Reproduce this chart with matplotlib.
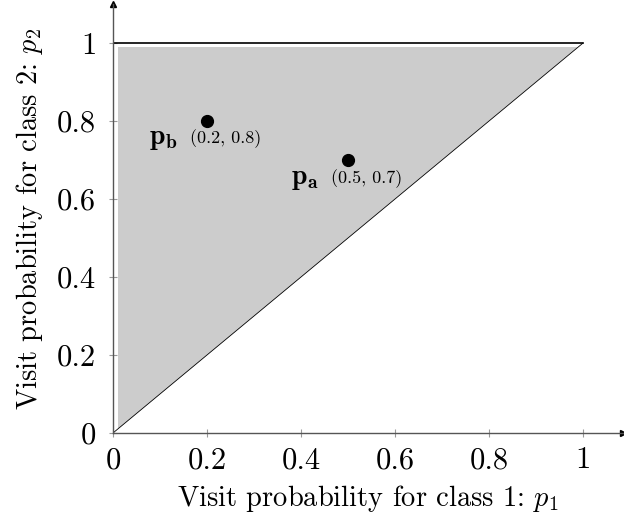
import matplotlib.pyplot as plt

plt.rcParams['font.family'] = ['cmr10']
plt.rcParams['mathtext.fontset'] = 'cm'
plt.rcParams['axes.formatter.use_mathtext'] = True

# data
point_names = ['b', 'a']
point_x = [0.2, 0.5]
point_y = [0.8, 0.7]
ticks = [0, 0.2, 0.4, 0.6, 0.8, 1]
tick_labels = ['0', '0.2', '0.4', '0.6', '0.8', '1']

fig = plt.figure(figsize=(6.24, 5.16), dpi=100)
ax = fig.add_axes([0.1811, 0.1609, 0.817, 0.831])
ax.set_xlim(0, 1.085)
ax.set_ylim(0, 1.1)

# feasible region (slightly inset like the original)
ax.fill([0.01, 0.01, 0.99], [0.01, 0.99, 0.99], color='#cccccc', lw=0, zorder=1)
ax.plot([0, 1], [1, 1], color='black', lw=1.2, zorder=2)
ax.plot([0, 1], [0, 1], color='black', lw=0.6, zorder=2)

ax.plot(point_x, point_y, 'o', color='black', ms=8.5, zorder=4)
for n, x, y in zip(point_names, point_x, point_y):
    dy = -12.5 if n == 'b' else -13.5
    ax.annotate(r'$\mathbf{p_%s}$' % n, (x, y), xytext=(-31, dy),
                textcoords='offset points', ha='center', va='center', fontsize=20)
    ax.annotate('(%.1f, %.1f)' % (x, y), (x, y), xytext=(13.5, dy),
                textcoords='offset points', ha='center', va='center', fontsize=13)

# middle-style axes
for s in ['top', 'right']:
    ax.spines[s].set_visible(False)
for s in ['left', 'bottom']:
    ax.spines[s].set_color('#555555')
    ax.spines[s].set_linewidth(1.0)
ax.plot(1, 0, '>', color='black', ms=4, transform=ax.get_yaxis_transform(), clip_on=False)
ax.plot(0, 1, '^', color='black', ms=4, transform=ax.get_xaxis_transform(), clip_on=False)

ax.set_xticks(ticks, tick_labels)
ax.set_yticks(ticks, tick_labels)
ax.tick_params(direction='inout', length=6, color='#999999', labelsize=22)
ax.tick_params(axis='x', pad=7)
ax.tick_params(axis='y', pad=9)

ax.set_xlabel(r'Visit probability for class 1: $p_1$', fontsize=20.5, labelpad=6)
ax.set_ylabel(r'Visit probability for class 2: $p_2$', fontsize=20.5, labelpad=9)

fig.savefig('out.png', dpi=100)
